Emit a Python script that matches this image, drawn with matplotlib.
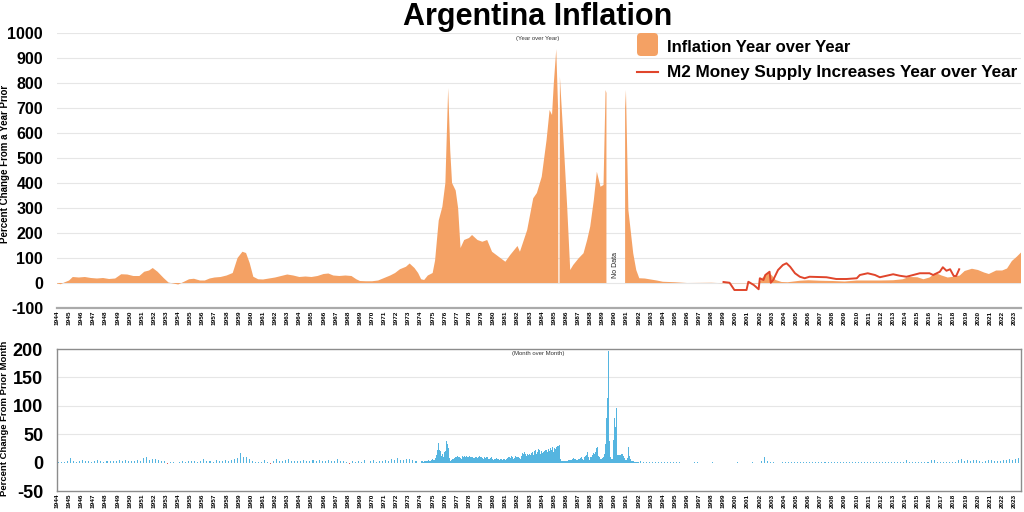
import numpy as np
import matplotlib
matplotlib.use("Agg")
import matplotlib.pyplot as plt
from matplotlib.patches import FancyBboxPatch
from matplotlib.lines import Line2D

plt.rcParams['font.family'] = ['Liberation Sans', 'DejaVu Sans']
plt.rcParams['axes.unicode_minus'] = False

# ---------------- data ----------------
title = "Argentina Inflation"
legend_labels = ["Inflation Year over Year", "M2 Money Supply Increases Year over Year"]
year_ticks = list(range(1944, 2024))

# Year-over-year inflation (%) (decimal year, value); NaN = no data
yoy_dates = [1944.0, 1944.3, 1944.6, 1945.0, 1945.3, 1945.8, 1946.3, 1946.8, 1947.3, 1947.8,
             1948.3, 1948.8, 1949.3, 1949.8, 1950.3, 1950.8, 1951.2, 1951.6, 1951.9, 1952.3,
             1952.8, 1953.2, 1953.6, 1954.0, 1954.4, 1954.9, 1955.3, 1955.8, 1956.2, 1956.6,
             1957.0, 1957.5, 1958.0, 1958.5, 1958.9, 1959.3, 1959.6, 1959.9, 1960.2, 1960.6,
             1961.0, 1961.5, 1962.0, 1962.5, 1963.0, 1963.5, 1964.0, 1964.5, 1965.0, 1965.5,
             1966.0, 1966.4, 1966.8, 1967.3, 1967.8, 1968.3, 1968.7, 1969.0, 1969.5, 1970.0,
             1970.5, 1971.0, 1971.5, 1971.9, 1972.3, 1972.8, 1973.1, 1973.5, 1973.8, 1974.05,
             1974.3, 1974.6, 1975.0, 1975.2, 1975.5, 1975.8, 1976.05, 1976.28, 1976.45, 1976.6,
             1976.9, 1977.1, 1977.3, 1977.6, 1978.0, 1978.25, 1978.7, 1979.1, 1979.5, 1979.9,
             1980.45, 1981.0, 1981.4, 1982.0, 1982.2, 1982.8, 1983.3, 1983.6, 1984.0, 1984.4,
             1984.65, 1984.85, 1985.0, 1985.2, 1985.35, 1985.37, 1985.47, 1985.5, 1985.8, 1986.1,
             1986.35, 1986.6, 1987.05, 1987.45, 1987.75, 1988.0, 1988.3, 1988.55, 1988.85, 1989.1,
             1989.27, 1989.34, 1989.4, 1990.85, 1990.88, 1990.95, 1991.15, 1991.55, 1991.8, 1992.05,
             1992.5, 1993.0, 1993.5, 1994.0, 1995.0, 1996.0, 1997.0, 1998.0, 1999.0, 2000.0,
             2001.0, 2001.9, 2002.2, 2002.5, 2002.75, 2003.0, 2003.3, 2003.8, 2004.3, 2004.8,
             2005.3, 2006.0, 2007.0, 2008.0, 2009.0, 2010.0, 2011.0, 2012.0, 2013.0, 2013.8,
             2014.3, 2015.0, 2015.5, 2016.0, 2016.5, 2017.0, 2017.5, 2018.0, 2018.5, 2018.9,
             2019.5, 2020.0, 2020.5, 2020.9, 2021.5, 2022.0, 2022.4, 2022.8, 2023.2, 2023.55]
yoy_vals = [-2, -5, 2, 10, 24, 22, 24, 20, 18, 20,
            16, 18, 35, 34, 28, 28, 45, 50, 60, 45,
            20, 2, -2, -6, 3, 15, 17, 10, 10, 18,
            22, 24, 30, 40, 100, 125, 120, 80, 25, 15,
            14, 18, 22, 28, 34, 30, 24, 26, 24, 28,
            36, 38, 30, 28, 30, 28, 15, 8, 7, 7,
            10, 20, 30, 40, 55, 65, 78, 60, 40, 15,
            12, 30, 40, 90, 250, 305, 400, 780, 530, 400,
            370, 300, 140, 172, 180, 192, 172, 165, 172, 125,
            105, 85, 112, 148, 125, 212, 339, 360, 425, 572,
            692, 672, 800, 935, 700, 0, 0, 825, 572, 305,
            52, 72, 99, 119, 172, 225, 332, 445, 385, 392,
            772, 760, np.nan, np.nan, 700, 772, 292, 119, 52, 19,
            18, 14, 10, 5, 3, 0, 0.5, 1, -1, -1,
            -1, -2, 20, 35, 41, 30, 12, 4, 3, 6,
            9, 11, 9, 8, 6, 10, 10, 10, 11, 15,
            24, 23, 15, 22, 40, 30, 22, 25, 30, 48,
            57, 52, 42, 36, 50, 50, 58, 88, 105, 122]

# M2 money supply growth year over year (%)
m2_dates = [1999.0, 1999.5, 1999.9, 2000.9, 2001.05, 2001.5, 2001.9, 2002.0, 2002.3, 2002.45,
            2002.8, 2002.9, 2003.1, 2003.5, 2003.9, 2004.2, 2004.5, 2004.9, 2005.3, 2005.7,
            2006.1, 2007.5, 2008.3, 2009.15, 2010.0, 2010.25, 2010.9, 2011.5, 2011.9, 2012.45,
            2013.0, 2013.55, 2014.1, 2014.65, 2015.2, 2016.0, 2016.3, 2016.85, 2017.1, 2017.4,
            2017.7, 2018.0, 2018.2, 2018.45]
m2_vals = [4, 1, -28, -28, 5, -8, -25, 19, 12, 32,
           45, 1, 12, 52, 72, 79, 65, 39, 25, 19,
           25, 23, 16, 16, 19, 32, 39, 32, 23, 29,
           35, 29, 25, 32, 39, 39, 32, 45, 63, 49,
           55, 28, 28, 55]

# Month-over-month inflation (%)
# 1944-1973: one reading per quarter
mom_1944_1973 = [0.5, 1, 1, 2,   8, 2, 1, 3,   5, 2, 3, 1,   3, 4, 2, 1,   2, 3, 2, 3,
                 5, 3, 4, 3,     3, 2, 4, 3,   8, 9, 5, 6,   7, 4, 3, 2,   -2, 1, 0.5, -1,
                 1, 2, 1, 3,     2, 3, 1, 2,   6, 2, 3, 1,   4, 2, 3, 5,   3, 5, 6, 8,
                 17, 10, 9, 6,   2, 1, 1, 0.5, 4, 1, -2, 2,  6, 3, 2, 4,   6, 2, 3, 2,
                 3, 4, 2, 2,     5, 3, 4, 2,   3, 4, 3, 2,   6, 2, 3, 1,   -2, 3, 1, 2,
                 1, 5, -1, 2,    4, 1, 2, 3,   4, 3, 6, 4,   8, 5, 4, 6,   7, 5, 2, -1]
# 1974-1991: monthly
mom_1974_1991 = [3, 2, 1, 3, 2, 3, 2, 4, 3, 2, 5, 6,
                 4, 5, 8, 14, 22, 35, 23, 20, 11, 15, 9, 18,
                 20, 38, 32, 25, 8, 3, 5, 7, 6, 8, 9, 10,
                 12, 9, 10, 8, 7, 11, 9, 12, 10, 11, 9, 10,
                 11, 9, 9, 10, 8, 8, 9, 10, 8, 10, 11, 9,
                 10, 8, 7, 9, 8, 9, 10, 7, 6, 8, 9, 6,
                 5, 7, 6, 8, 7, 6, 5, 7, 6, 5, 7, 6,
                 5, 7, 8, 10, 9, 8, 12, 10, 7, 8, 12, 9,
                 10, 8, 7, 11, 17, 15, 18, 16, 12, 16, 14, 15,
                 13, 17, 18, 14, 20, 22, 16, 19, 24, 22, 15, 20,
                 17, 18, 20, 22, 23, 18, 24, 21, 25, 22, 27, 18,
                 25, 24, 28, 30, 29, 31, 6, 3, 2, 2, 3, 3,
                 2, 2, 4, 5, 4, 5, 6, 8, 7, 6, 5, 4,
                 7, 6, 8, 10, 6, 5, 9, 12, 14, 19, 10, 5,
                 9, 10, 14, 17, 15, 18, 25, 27, 12, 9, 6, 7,
                 8, 9, 16, 33, 78, 114, 196, 38, 9, 6, 6, 40,
                 79, 62, 96, 14, 14, 14, 11, 16, 11, 8, 5, 5,
                 8, 27, 11, 6, 3, 3, 2.5, 1.5, 1.5, 1.5, 0.5, 0.5]
# 1992-2022: one reading per quarter
mom_1992_2022 = [3, 1.5, 1.5, 1,   1, 0.8, 0.5, 0.5,   0.5, 0.3, 0.4, 0.3,   0.8, 0.2, 0.1, 0.1,
                 0.1, 0, 0.2, 0.2,  0.1, 0.1, 0.1, 0,   0.3, 0.1, 0, -0.2,   -0.3, -0.1, -0.2, -0.1,
                 0.2, -0.4, -0.1, -0.1,  -0.1, 0.4, -0.3, -0.2,  3, 10, 3.5, 0.5,  0.5, 0.1, 0.1, 0.5,
                 0.5, 0.7, 0.6, 0.8,  1.5, 0.5, 1, 1.2,  1.3, 0.5, 0.6, 1,  1, 0.6, 0.6, 0.7,
                 0.9, 0.6, 0.5, 0.3,  0.5, 0.5, 0.8, 0.8,  1.3, 0.8, 0.7, 0.8,  0.8, 0.7, 0.8, 0.6,
                 1, 0.8, 0.9, 1,  1, 0.7, 0.8, 1.4,  4, 1.8, 1.4, 1.5,  1.3, 1.2, 1.2, 1.3,
                 4, 4.2, 1, 1.4,  1.6, 1.4, 1.5, 1.5,  1.9, 3.7, 6.5, 2.6,  3.8, 3.1, 4, 3.7,
                 2.3, 1.5, 2.7, 3.8,  4, 3.3, 3.5, 3.3,  4.7, 5.1, 6.2, 4.9]
# 2023: Feb, May, Aug
mom_2023 = [6.6, 8.4, 12.4]

# ---------------- assemble dates ----------------
q_off = np.array([1.5, 4.5, 7.5, 10.5]) / 12
m_off = (np.arange(12) + 0.5) / 12
d1 = np.concatenate([y + q_off for y in range(1944, 1974)])
d2 = np.concatenate([y + m_off for y in range(1974, 1992)])
d3 = np.concatenate([y + q_off for y in range(1992, 2023)])
d4 = 2023 + np.array([1.5, 4.5, 7.5]) / 12
mom_dates = np.concatenate([d1, d2, d3, d4])
mom_vals = np.array(mom_1944_1973 + mom_1974_1991 + mom_1992_2022 + mom_2023, dtype=float)

# ---------------- figure ----------------
W, H = 1024, 512
fig = plt.figure(figsize=(W / 100, H / 100), dpi=100)
L, R = 57, 1021
ax1 = fig.add_axes([L / W, 1 - 308 / H, (R - L) / W, (308 - 33) / H])
ax2 = fig.add_axes([L / W, 1 - 491 / H, (R - L) / W, (491 - 349) / H])

orange = '#F4A164'
red = '#E0452B'
blue = '#55B5E0'
xlim = (1944.0, 2023.55)

# top chart
yd = np.array(yoy_dates, dtype=float)
yv = np.array(yoy_vals, dtype=float)
ax1.fill_between(yd, yv, 0, color=orange, lw=0, zorder=2)
ax1.plot(m2_dates, m2_vals, color=red, lw=1.4, zorder=3)
ax1.set_xlim(*xlim)
ax1.set_ylim(-100, 1000)
ax1.set_yticks(range(-100, 1001, 100))
for v in range(0, 1001, 100):
    ax1.axhline(v, color='#e6e6e6', lw=0.8, zorder=0)
for s in ['top', 'left', 'right']:
    ax1.spines[s].set_visible(False)
ax1.spines['bottom'].set_color('#aaaaaa')
ax1.spines['bottom'].set_linewidth(1.6)
ax1.tick_params(axis='y', length=0, pad=10, labelsize=11.5)
ax1.set_xticks(year_ticks)
ax1.set_xticklabels([str(y) for y in year_ticks], rotation=90, fontsize=4.6, fontweight='bold')
ax1.tick_params(axis='x', length=0, pad=2)
for lab in ax1.get_yticklabels():
    lab.set_fontweight('bold')
ax1.text(1983.7, 978, "(Year over Year)", fontsize=4.3, ha='center', va='center', color='#333333')
ax1.text(1990.1, 70, "No Data", rotation=90, fontsize=5, ha='center', va='center', color='#222222')

# bottom chart
cols = [blue if v >= 0 else '#E05A5A' for v in mom_vals]
ax2.bar(mom_dates, mom_vals, width=0.085, color=cols, lw=0, zorder=2)
ax2.set_xlim(*xlim)
ax2.set_ylim(-50, 200)
ax2.set_yticks([-50, 0, 50, 100, 150, 200])
for v in [50, 100, 150]:
    ax2.axhline(v, color='#e6e6e6', lw=0.8, zorder=0)
for s in ax2.spines.values():
    s.set_color('#8c8c8c')
    s.set_linewidth(1.0)
ax2.tick_params(axis='y', length=0, pad=10, labelsize=13)
for lab in ax2.get_yticklabels():
    lab.set_fontweight('bold')
ax2.set_xticks(year_ticks)
ax2.set_xticklabels([str(y) for y in year_ticks], rotation=90, fontsize=4.6, fontweight='bold')
ax2.tick_params(axis='x', length=0, pad=2)
ax2.text(1983.7, 192, "(Month over Month)", fontsize=4.3, ha='center', va='center', color='#333333')

# axis titles
fig.text(5 / W, 1 - 164 / H, "Percent Change From a Year Prior", rotation=90,
         fontsize=7, fontweight='bold', ha='center', va='center')
fig.text(5 / W, 1 - 418 / H, "Percent Change From Prior Month", rotation=90,
         fontsize=6.8, fontweight='bold', ha='center', va='center')

# title
fig.text(538 / W, 1 - 25 / H, title, fontsize=22, fontweight='bold', ha='center', va='baseline')

# legend (manual)
patch = FancyBboxPatch((6.37, (H - 56) / 100), 0.21, 0.23,
                       boxstyle="round,pad=0,rounding_size=0.04",
                       transform=fig.dpi_scale_trans, facecolor=orange, edgecolor='none')
fig.add_artist(patch)
fig.add_artist(Line2D([6.37, 6.58], [(H - 72) / 100] * 2, transform=fig.dpi_scale_trans,
                      color=red, lw=1.5))
fig.text(667 / W, 1 - 52 / H, legend_labels[0], fontsize=12, fontweight='bold', va='baseline')
fig.text(667 / W, 1 - 77 / H, legend_labels[1], fontsize=12.3, fontweight='bold', va='baseline')

fig.savefig("out.png", dpi=100)
